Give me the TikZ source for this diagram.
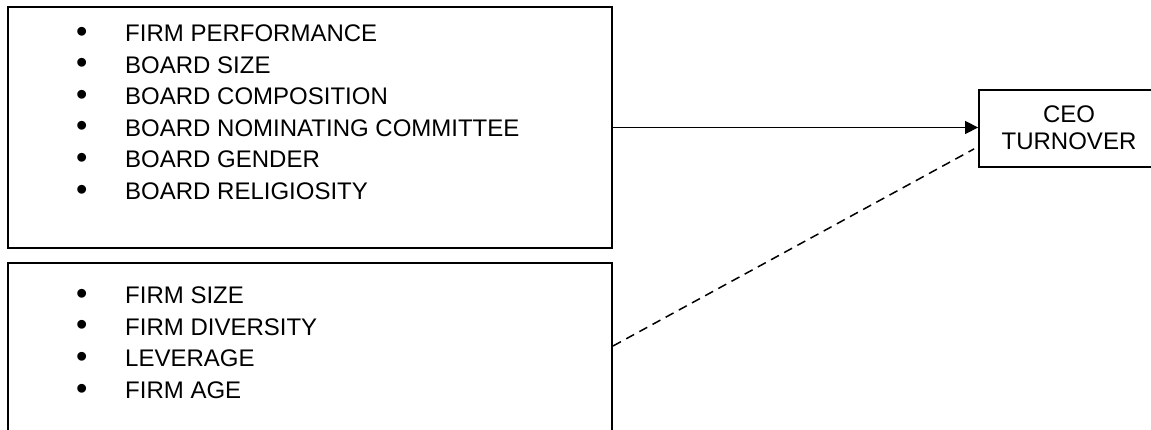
\documentclass[tikz,border=0pt]{standalone}
\usepackage{fontspec}
\setmainfont{Liberation Sans}
\usetikzlibrary{arrows.meta,calc}
\tikzset{
  box/.style={draw=black, line width=2pt, rectangle, inner sep=0pt},
  ceobox/.style={draw=black, line width=1.8pt, rectangle, inner sep=0pt},
  ceotext/.style={inner sep=0pt, anchor=base, font=\fontsize{24}{27}\selectfont},
  item/.style={anchor=base west, inner sep=0pt, font=\fontsize{24}{28}\selectfont},
  link/.style={line width=1.3pt, -{Triangle[length=13pt,width=13pt]}},
  dashlink/.style={line width=1.5pt, dash pattern=on 9pt off 6pt},
}
\newcommand{\bul}{\makebox[48pt][l]{\hspace*{-1pt}\raisebox{-0.6pt}{\scalebox{1.35}{\textbullet}}}}
\begin{document}
\begin{tikzpicture}[x=1pt,y=1pt]
\useasboundingbox (0,0) rectangle (1151,-430);
% boxes
\node[box, minimum width=604.5pt, minimum height=241pt] (box1) at (309.75,-127.5) {};
\node[box, minimum width=604.5pt, minimum height=200pt] (box2) at (309.75,-363) {};
\node[ceobox, minimum width=200pt, minimum height=77pt] (ceo) at (1079,-128.5) {};
\node[ceotext] (ceot1) at (1069,-123) {CEO};
\node[ceotext] (ceot2) at (1069,-150) {TURNOVER};
% lists
\foreach \t [count=\i] in {FIRM PERFORMANCE, BOARD SIZE, BOARD COMPOSITION, BOARD NOMINATING COMMITTEE, BOARD GENDER, BOARD RELIGIOSITY}
  \node[item] (a\i) at (77,{-41.6-(\i-1)*31.6}) {\bul\t};
\foreach \t [count=\i] in {FIRM SIZE, FIRM DIVERSITY, LEVERAGE, FIRM AGE}
  \node[item] (c\i) at (77,{-303.6-(\i-1)*31.6}) {\bul\t};
% connectors
\draw[link] (box1.east) -- (box1.east -| ceo.west);
\coordinate (d1) at ($(box2.north east)+(0,-84)$);
\coordinate (d2) at ($(ceo.south west)+(-4,19)$);
\draw[dashlink] (d1) -- (d2);
\end{tikzpicture}
\end{document}
